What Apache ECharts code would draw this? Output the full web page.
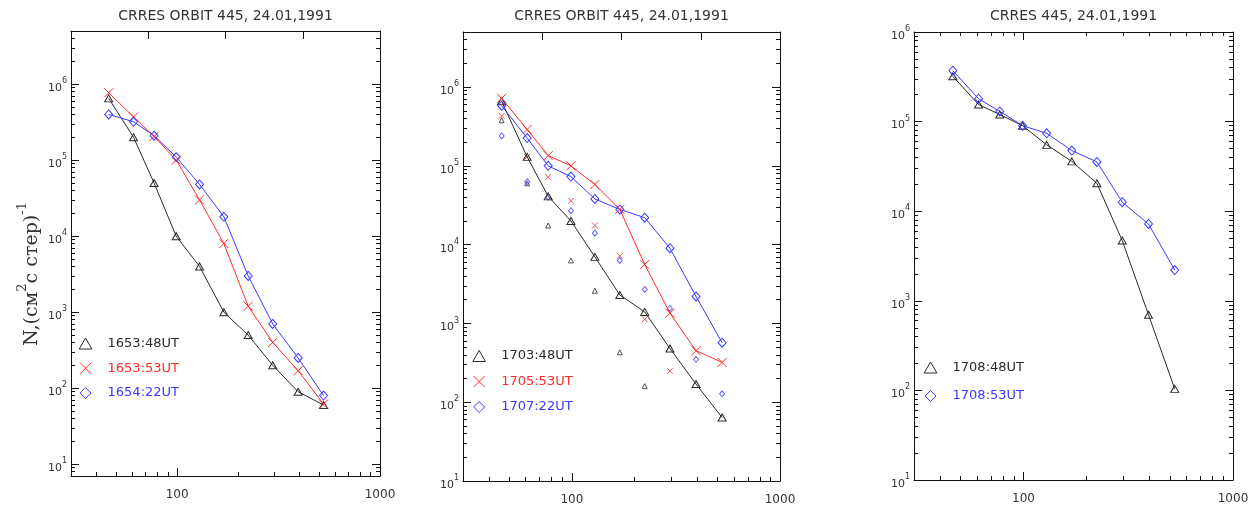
<!DOCTYPE html>
<html>
<head>
<meta charset="utf-8">
<script src="https://cdn.jsdelivr.net/npm/echarts@6/dist/echarts.min.js"></script>
<style>
html,body{margin:0;padding:0;background:#fff;}
#chart{width:1253px;height:508px;}
</style>
</head>
<body>
<div id="chart"></div>
<script>
// ---------------- data ----------------
const energies = [46, 61, 77, 99, 129, 170, 224, 296, 395, 527];

const titles = ['CRRES ORBIT 445, 24.01,1991', 'CRRES ORBIT 445, 24.01,1991', 'CRRES 445, 24.01,1991'];

// panel 1
const p1Names = ['1653:48UT', '1653:53UT', '1654:22UT'];
const p1_a = [6.5e5, 2.0e5, 5.0e4, 1.0e4, 4.0e3, 1.0e3, 500, 200, 90, 60];
const p1_b = [7.7e5, 3.7e5, 2.05e5, 1.0e5, 3.0e4, 8.0e3, 1.2e3, 400, 170, 62];
const p1_c = [4.0e5, 3.2e5, 2.1e5, 1.1e5, 4.8e4, 1.8e4, 3.0e3, 700, 250, 80];

// panel 2
const p2Names = ['1703:48UT', '1705:53UT', '1707:22UT'];
const p2_a = [6.6e5, 1.3e5, 4.1e4, 2.0e4, 7.0e3, 2.3e3, 1.4e3, 480, 170, 64];
const p2_b = [7.2e5, 2.9e5, 1.35e5, 1.0e5, 5.8e4, 2.8e4, 5.6e3, 1.35e3, 450, 320];
const p2_c = [5.8e5, 2.25e5, 1.0e5, 7.3e4, 3.8e4, 2.8e4, 2.2e4, 9.0e3, 2.2e3, 570];
// panel 2 unconnected points (first N energies)
const p2_a_pts = [3.8e5, 6.0e4, 1.75e4, 6.3e3, 2.6e3, 430, 160];
const p2_b_pts = [4.3e5, 1.3e5, 7.2e4, 3.6e4, 1.75e4, 7.2e3, 1.13e3, 250];
const p2_c_pts = [2.4e5, 6.3e4, 4.0e4, 2.7e4, 1.4e4, 6.3e3, 2.7e3, 1.55e3, 350, 128];

// panel 3
const p3Names = ['1708:48UT', '1708:53UT'];
const p3_a = [3.2e5, 1.55e5, 1.2e5, 9.0e4, 5.5e4, 3.6e4, 2.05e4, 4.7e3, 700, 104];
const p3_b = [3.7e5, 1.8e5, 1.3e5, 9.0e4, 7.4e4, 4.75e4, 3.55e4, 1.26e4, 7.2e3, 2.2e3];

// tick labels
const xTickLabels = [100, 1000];
const yDecadesP1 = [10, 100, 1000, 1e4, 1e5, 1e6];
const yDecadesP2 = [10, 100, 1000, 1e4, 1e5, 1e6];
const yDecadesP3 = [10, 100, 1000, 1e4, 1e5, 1e6];

// ---------------- styling ----------------
const BLACK = '#2a2a2a', RED = '#ff2a2a', BLUE = '#3a3aff', AXIS = '#111';
const TRI = 'path://M5,0L10,8.66L0,8.66Z';
const CROSS = 'path://M0,0L10,10M10,0L0,10';
const DIAM = 'path://M5,0L10,5L5,10L0,5Z';
const MAJ = 8, MIN = 4;

const grids = [
  {left: 71, top: 31, width: 309, height: 445, ymin: 7, ymax: 5e6, dec: yDecadesP1, topLinear: true},
  {left: 463, top: 32, width: 317, height: 449, ymin: 10, ymax: 5e6, dec: yDecadesP2, topLinear: true},
  {left: 914, top: 32, width: 319, height: 448, ymin: 10, ymax: 1e6, dec: yDecadesP3, topLinear: false}
];

function minorVals(min, max) {
  const out = [];
  for (let k = -1; k <= 7; k++) {
    for (let m = 2; m <= 9; m++) {
      const v = m * Math.pow(10, k);
      if (v > min && v < max) out.push(v);
    }
  }
  return out;
}

const xAxes = [], yAxes = [], gridOpts = [], series = [], titleOpts = [], legends = [];
const mainX = [], mainY = [];

function lineOn() { return {show: true, onZero: false, lineStyle: {color: AXIS, width: 1}}; }
function lineOff() { return {show: false, onZero: false}; }
function tick(len, vals) {
  const t = {show: true, inside: true, length: len, lineStyle: {color: AXIS, width: 1}};
  if (vals) t.customValues = vals;
  return t;
}

grids.forEach((g, i) => {
  gridOpts.push({left: g.left, top: g.top, width: g.width, height: g.height, containLabel: false, show: false});
  titleOpts.push({
    text: titles[i], left: g.left + g.width / 2, top: 9, textAlign: 'center', padding: 0,
    textStyle: {fontFamily: 'DejaVu Sans', fontSize: 14, fontWeight: 'normal', color: '#333'}
  });
  const base = () => ({gridIndex: i, silent: true, splitLine: {show: false}, splitArea: {show: false}});
  // bottom major
  mainX.push(xAxes.length);
  xAxes.push(Object.assign(base(), {
    type: 'log', min: 30, max: 1000, position: 'bottom',
    axisLine: lineOn(), axisTick: tick(MAJ, xTickLabels),
    axisLabel: {show: true, customValues: xTickLabels, margin: 13, color: '#333', fontFamily: 'DejaVu Sans', fontSize: 12,
      formatter: v => String(Math.round(v))}
  }));
  // bottom minor
  xAxes.push(Object.assign(base(), {
    type: 'log', min: 30, max: 1000, position: 'bottom',
    axisLine: lineOff(), axisTick: tick(MIN, minorVals(30, 1000)), axisLabel: {show: false}
  }));
  if (g.topLinear) {
    xAxes.push(Object.assign(base(), {
      type: 'value', min: 0, max: 4, interval: 1, position: 'top',
      axisLine: lineOn(), axisTick: tick(MAJ), axisLabel: {show: false}
    }));
  } else {
    xAxes.push(Object.assign(base(), {
      type: 'log', min: 30, max: 1000, position: 'top',
      axisLine: lineOn(), axisTick: tick(MAJ, xTickLabels), axisLabel: {show: false}
    }));
    xAxes.push(Object.assign(base(), {
      type: 'log', min: 30, max: 1000, position: 'top',
      axisLine: lineOff(), axisTick: tick(MIN, minorVals(30, 1000)), axisLabel: {show: false}
    }));
  }
  // y axes
  mainY.push(yAxes.length);
  yAxes.push(Object.assign(base(), {
    type: 'log', min: g.ymin, max: g.ymax, position: 'left', offset: 0,
    axisLine: lineOn(), axisTick: tick(MAJ, g.dec),
    axisLabel: {show: true, customValues: g.dec, margin: 4, color: '#333',
      formatter: v => '{b|10}{s|' + Math.round(Math.log10(v)) + '}',
      rich: {
        b: {fontFamily: 'DejaVu Sans', fontSize: 11, color: '#333', padding: [8, 0, 0, 0]},
        s: {fontFamily: 'DejaVu Sans', fontSize: 8, color: '#333', padding: [0, 0, 6, 0]}
      }}
  }));
  yAxes.push(Object.assign(base(), {
    type: 'log', min: g.ymin, max: g.ymax, position: 'left', offset: 0,
    axisLine: lineOff(), axisTick: tick(MIN, minorVals(g.ymin, g.ymax)), axisLabel: {show: false}
  }));
  yAxes.push(Object.assign(base(), {
    type: 'log', min: g.ymin, max: g.ymax, position: 'right', offset: 0,
    axisLine: lineOn(), axisTick: tick(MAJ, g.dec), axisLabel: {show: false}
  }));
  yAxes.push(Object.assign(base(), {
    type: 'log', min: g.ymin, max: g.ymax, position: 'right', offset: 0,
    axisLine: lineOff(), axisTick: tick(MIN, minorVals(g.ymin, g.ymax)), axisLabel: {show: false}
  }));
});

function pairs(vals) { return vals.map((v, k) => [energies[k], v]); }

function lineSeries(panel, name, vals, color, symbol, size) {
  series.push({
    type: 'line', name: name, xAxisIndex: mainX[panel], yAxisIndex: mainY[panel],
    data: pairs(vals), symbol: symbol, symbolSize: size, showSymbol: true,
    lineStyle: {color: color, width: 1},
    itemStyle: {color: 'transparent', borderColor: color, borderWidth: 1},
    emphasis: {disabled: true}, silent: true, animation: false, z: 3
  });
}
function pointSeries(panel, name, vals, color, symbol, size) {
  series.push({
    type: 'scatter', name: name, xAxisIndex: mainX[panel], yAxisIndex: mainY[panel],
    data: pairs(vals), symbol: symbol, symbolSize: size,
    itemStyle: {color: 'transparent', borderColor: color, borderWidth: 1},
    emphasis: {disabled: true}, silent: true, animation: false, z: 2
  });
}

lineSeries(0, p1Names[0], p1_a, BLACK, TRI, [8, 7]);
lineSeries(0, p1Names[1], p1_b, RED, CROSS, [9, 9]);
lineSeries(0, p1Names[2], p1_c, BLUE, DIAM, [8, 9]);

lineSeries(1, p2Names[0], p2_a, BLACK, TRI, [8, 7]);
lineSeries(1, p2Names[1], p2_b, RED, CROSS, [9, 9]);
lineSeries(1, p2Names[2], p2_c, BLUE, DIAM, [8, 9]);
pointSeries(1, p2Names[0] + ' pts', p2_a_pts, BLACK, TRI, [5, 5]);
pointSeries(1, p2Names[1] + ' pts', p2_b_pts, RED, CROSS, [6, 6]);
pointSeries(1, p2Names[2] + ' pts', p2_c_pts, BLUE, DIAM, [5, 6]);

lineSeries(2, p3Names[0], p3_a, BLACK, TRI, [8, 7]);
lineSeries(2, p3Names[1], p3_b, BLUE, DIAM, [8, 9]);

function legendItem(name, icon, color) {
  return {name: name, icon: icon, itemStyle: {color: 'transparent', borderColor: color, borderWidth: 1},
    textStyle: {color: color}};
}
function legendCommon() {
  return {
    orient: 'vertical', itemWidth: 34, itemHeight: 11, padding: 0, selectedMode: false,
    textStyle: {fontFamily: 'DejaVu Sans', fontSize: 13, lineHeight: 12}, symbolKeepAspect: true
  };
}
legends.push(Object.assign(legendCommon(), {left: 78.7, top: 337, itemGap: 11.8,
  data: [legendItem(p1Names[0], TRI, BLACK), legendItem(p1Names[1], CROSS, RED), legendItem(p1Names[2], DIAM, BLUE)]}));
legends.push(Object.assign(legendCommon(), {left: 472.3, top: 349.5, itemGap: 12.5,
  data: [legendItem(p2Names[0], TRI, BLACK), legendItem(p2Names[1], CROSS, RED), legendItem(p2Names[2], DIAM, BLUE)]}));
legends.push(Object.assign(legendCommon(), {left: 923.7, top: 361, itemGap: 15.5,
  data: [legendItem(p3Names[0], TRI, BLACK), legendItem(p3Names[1], DIAM, BLUE)]}));

const option = {
  backgroundColor: '#fff',
  animation: false,
  title: titleOpts,
  legend: legends,
  grid: gridOpts,
  xAxis: xAxes,
  yAxis: yAxes,
  series: series,
  graphic: [{
    type: 'text', x: 28, y: 274, rotation: Math.PI / 2, silent: true,
    style: {
      text: '{n|N,(см}{sup|2}{n|с стер)}{sup|-1}',
      align: 'center', verticalAlign: 'middle',
      rich: {
        n: {fontFamily: 'DejaVu Serif', fontSize: 19, fill: '#333', padding: [8, 0, 0, 0]},
        sup: {fontFamily: 'DejaVu Serif', fontSize: 13, fill: '#333', padding: [0, 0, 10, 0]}
      }
    }
  }]
};

const chart = echarts.init(document.getElementById('chart'), null, {renderer: 'canvas'});
chart.setOption(option);
</script>
</body>
</html>
